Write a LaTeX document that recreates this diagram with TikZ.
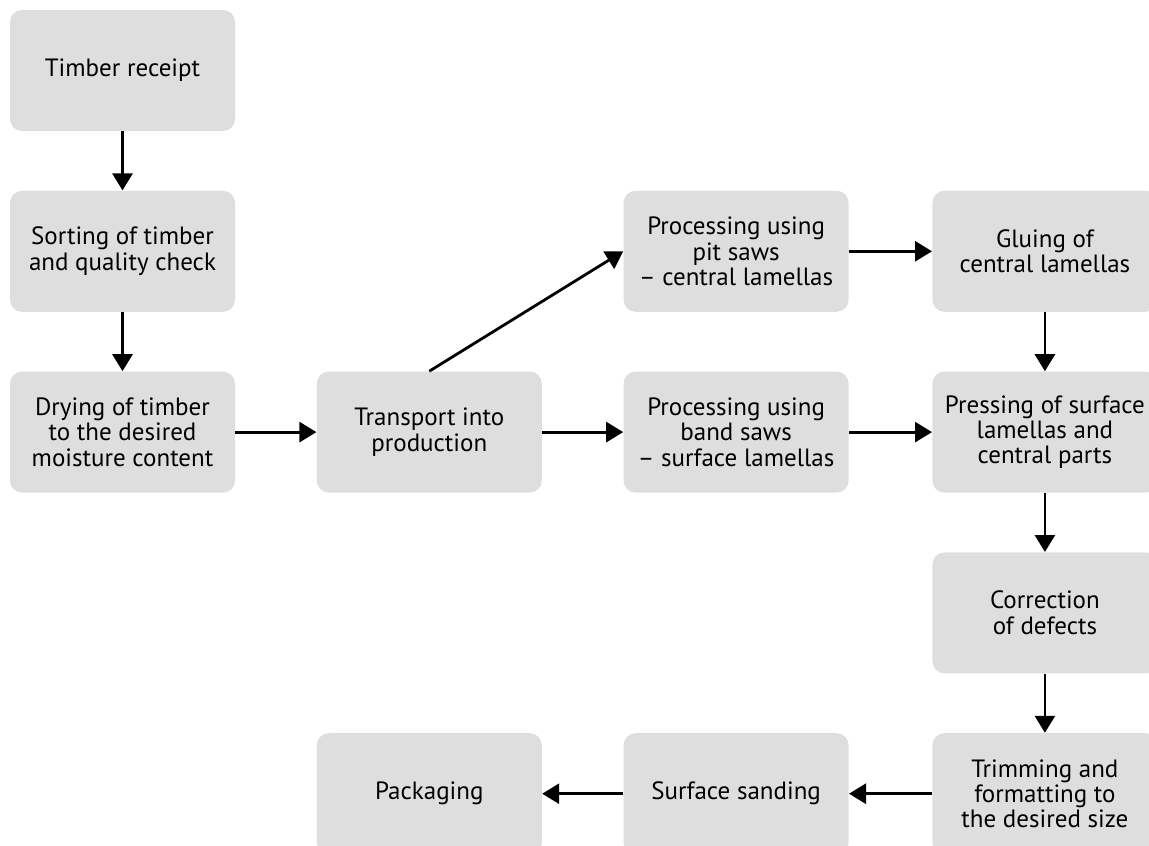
\documentclass[tikz,border=0pt]{standalone}
\usepackage{fontspec}
\setmainfont{PT Sans}
\usetikzlibrary{arrows.meta, positioning}
\definecolor{boxgray}{HTML}{DEDEDE}

\begin{document}
\begin{tikzpicture}[x=0.5pt, y=-0.5pt,
        box/.style={fill=boxgray, rounded corners=6pt, minimum width=112.5pt, minimum height=60.5pt, inner sep=0pt, align=center, font=\fontsize{12.5}{12.7}\selectfont},
        flow/.style={-{Triangle[length=8.5pt, width=10pt]}, line width=1.4pt}]
        % Define page frame
        \useasboundingbox (0,0) rectangle (1149,845);
        \clip (0,0) rectangle (1149,845);

        % Define left column
        \node[box] (receipt) at (122.5,70.5) {Timber receipt};
        \node[box, below=29.5pt of receipt] (sorting) {Sorting of timber\\and quality check};
        \node[box, below=29.5pt of sorting] (drying) {Drying of timber\\to the desired\\moisture content};

        % Define middle row
        \node[box, right=40.5pt of drying] (transport) {Transport into\\production};
        \node[box, right=40.5pt of transport] (bandsaw) {Processing using\\band saws\\– surface lamellas};
        \node[box, above=29.5pt of bandsaw] (pitsaw) {Processing using\\pit saws\\– central lamellas};
        \node[box, right=41.5pt of bandsaw] (pressing) {Pressing of surface\\lamellas and\\central parts};
        \node[box, above=29.5pt of pressing] (gluing) {Gluing of\\central lamellas};

        % Define right column and bottom row
        \node[box, below=29.5pt of pressing] (correction) {Correction\\of defects};
        \node[box, below=29.5pt of correction] (trimming) {Trimming and\\formatting to\\the desired size};
        \node[box, left=41.5pt of trimming] (sanding) {Surface sanding};
        \node[box, left=40.5pt of sanding] (packaging) {Packaging};

        % Draw flow arrows
        \draw[flow] (receipt) -- (sorting);
        \draw[flow] (sorting) -- (drying);
        \draw[flow] (drying) -- (transport);
        \draw[flow] (transport.north) -- (pitsaw.west);
        \draw[flow] (transport) -- (bandsaw);
        \draw[flow] (pitsaw) -- (gluing);
        \draw[flow] (bandsaw) -- (pressing);
        \draw[flow] (gluing) -- (pressing);
        \draw[flow] (pressing) -- (correction);
        \draw[flow] (correction) -- (trimming);
        \draw[flow] (trimming) -- (sanding);
        \draw[flow] (sanding) -- (packaging);

    \end{tikzpicture}
\end{document}
